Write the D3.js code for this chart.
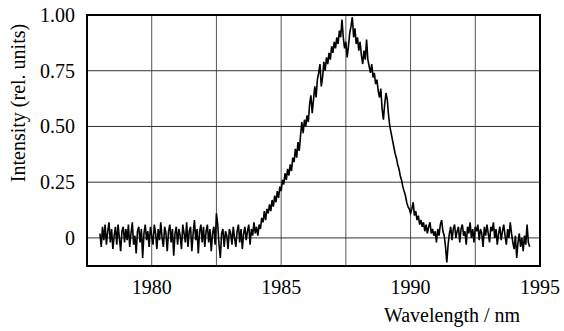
<!DOCTYPE html>
<html>
<head>
<meta charset="utf-8">
<script src="https://cdn.jsdelivr.net/npm/d3@7/dist/d3.min.js"></script>
<style>
  svg text { font-family: "Liberation Serif", Tinos, "Times New Roman", serif !important; }
</style>
</head>
<body style="margin:0">
<svg width="564" height="331"></svg>
<script>
var wlStart = 1978.0, wlStep = 0.05;
var intensity = [
  // 1978
  0.02,-0.04,0.05,-0.01,0.06,-0.03,0.03,0.07,-0.02,0.04,-0.05,0.01,0.05,-0.03,0.06,0.00,-0.06,0.03,0.05,-0.02,
  // 1979
  0.04,-0.01,0.06,-0.04,0.02,0.07,-0.03,0.01,-0.07,0.03,0.05,-0.02,0.04,-0.09,0.02,0.06,-0.01,0.03,-0.04,0.05,
  // 1980
  0.01,-0.03,0.06,0.02,-0.05,0.04,-0.01,0.07,0.00,-0.04,0.05,0.02,-0.06,0.03,0.06,-0.02,0.04,-0.08,0.02,0.05,
  // 1981
  -0.03,0.04,0.01,-0.05,0.06,0.02,-0.02,0.07,-0.04,0.03,0.05,-0.06,0.02,0.08,-0.01,0.04,-0.07,0.03,0.06,-0.02,
  // 1982
  0.05,-0.04,0.03,0.06,-0.02,0.04,-0.06,0.02,0.05,-0.03,0.11,0.06,-0.03,-0.09,0.02,0.04,-0.04,0.03,0.01,-0.05,
  // 1983
  0.04,0.02,-0.03,0.05,0.00,-0.04,0.03,0.06,-0.02,0.04,-0.05,0.02,0.05,-0.01,0.03,0.06,-0.03,0.04,0.01,0.07,
  // 1984
  0.02,0.05,0.01,0.06,0.04,0.09,0.07,0.12,0.08,0.13,0.11,0.15,0.12,0.17,0.14,0.19,0.16,0.21,0.18,0.23,
  // 1985
  0.21,0.26,0.24,0.29,0.26,0.31,0.28,0.33,0.30,0.36,0.34,0.40,0.36,0.43,0.39,0.46,0.52,0.47,0.53,0.50,
  // 1986
  0.55,0.52,0.60,0.64,0.56,0.62,0.68,0.63,0.71,0.74,0.78,0.68,0.72,0.79,0.75,0.81,0.78,0.83,0.80,0.86,
  // 1987
  0.83,0.88,0.85,0.90,0.87,0.93,0.90,0.98,0.90,0.85,0.88,0.81,0.86,0.92,0.95,0.99,0.90,0.94,0.87,0.90,
  // 1988
  0.84,0.88,0.82,0.78,0.84,0.80,0.89,0.80,0.77,0.74,0.78,0.72,0.74,0.69,0.71,0.66,0.63,0.67,0.58,0.53,
  // 1989
  0.60,0.65,0.62,0.55,0.50,0.47,0.44,0.41,0.38,0.36,0.33,0.31,0.28,0.26,0.23,0.21,0.19,0.16,0.14,0.13,
  // 1990
  0.11,0.13,0.16,0.10,0.12,0.08,0.10,0.06,0.08,0.05,0.07,0.03,0.06,0.02,0.05,0.07,0.02,0.04,0.01,0.03,
  // 1991
  -0.02,0.04,0.01,0.06,0.08,0.03,0.01,-0.04,-0.11,-0.03,0.02,0.05,-0.01,0.04,0.06,0.00,0.03,0.05,-0.02,0.04,
  // 1992
  0.06,0.01,0.03,-0.03,0.05,0.02,0.07,0.00,0.04,-0.02,0.05,0.03,0.06,-0.01,0.04,0.02,-0.04,0.05,0.01,0.06,
  // 1993
  0.02,-0.02,0.05,0.03,0.07,0.00,0.04,-0.03,0.02,0.05,-0.01,0.03,0.06,0.01,-0.03,0.04,0.00,0.07,0.02,-0.02,
  // 1994
  -0.05,0.01,-0.09,-0.02,0.02,-0.04,0.00,-0.06,0.01,-0.03,0.06,-0.02,-0.04
];

var xTicks = [1980, 1985, 1990, 1995];
var xGrid = [1980, 1982.5, 1985, 1987.5, 1990, 1992.5];
var yTicks = [0, 0.25, 0.5, 0.75, 1.0];
var yTickLabels = ["0", "0.25", "0.50", "0.75", "1.00"];

var data = intensity.map(function(v, i) { return { wl: wlStart + i * wlStep, val: v }; });

var margin = {top: 15, right: 24, bottom: 65, left: 87};
var svg = d3.select("svg");
var width = +svg.attr("width") - margin.left - margin.right,
    height = +svg.attr("height") - margin.top - margin.bottom;

var x = d3.scaleLinear().domain([1977.5, 1995]).range([margin.left, margin.left + width]);
var y = d3.scaleLinear().domain([-0.126, 1.0]).range([margin.top + height, margin.top]);

// grid
svg.selectAll(".vgrid").data(xGrid).enter().append("line")
  .attr("class", "vgrid")
  .attr("x1", function(d) { return x(d); }).attr("x2", function(d) { return x(d); })
  .attr("y1", margin.top).attr("y2", margin.top + height)
  .attr("stroke", "#555").attr("stroke-width", 1);

svg.selectAll(".hgrid").data(yTicks.slice(0, 4)).enter().append("line")
  .attr("class", "hgrid")
  .attr("x1", margin.left).attr("x2", margin.left + width)
  .attr("y1", function(d) { return y(d); }).attr("y2", function(d) { return y(d); })
  .attr("stroke", "#333").attr("stroke-width", 1);

// spectrum
var line = d3.line()
  .x(function(d) { return x(d.wl); })
  .y(function(d) { return y(d.val); });

svg.append("path")
  .datum(data)
  .attr("fill", "none")
  .attr("stroke", "#000")
  .attr("stroke-width", 1.6)
  .attr("d", line);

// frame
svg.append("rect")
  .attr("x", margin.left).attr("y", margin.top).attr("width", width).attr("height", height)
  .attr("fill", "none").attr("stroke", "#000").attr("stroke-width", 2);

// labels
svg.selectAll(".xlab").data(xTicks).enter().append("text")
  .attr("class", "xlab")
  .attr("x", function(d) { return x(d); })
  .attr("y", margin.top + height + 28)
  .attr("text-anchor", "middle")
  .attr("font-size", 20)
  .style("font-family", "Liberation Serif", "important")
  .text(function(d) { return d; });

svg.selectAll(".ylab").data(yTicks).enter().append("text")
  .attr("class", "ylab")
  .attr("x", margin.left - 12)
  .attr("y", function(d) { return y(d) + 7; })
  .attr("text-anchor", "end")
  .attr("font-size", 20)
  .style("font-family", "Liberation Serif", "important")
  .text(function(d, i) { return yTickLabels[i]; });

svg.append("text")
  .attr("transform", "translate(25,103) rotate(-90)")
  .attr("text-anchor", "middle")
  .attr("font-size", 20)
  .style("font-family", "Liberation Serif", "important")
  .text("Intensity (rel. units)");

svg.append("text")
  .attr("x", 452)
  .attr("y", 322)
  .attr("text-anchor", "middle")
  .attr("font-size", 20)
  .style("font-family", "Liberation Serif", "important")
  .text("Wavelength / nm");
</script>
</body>
</html>
